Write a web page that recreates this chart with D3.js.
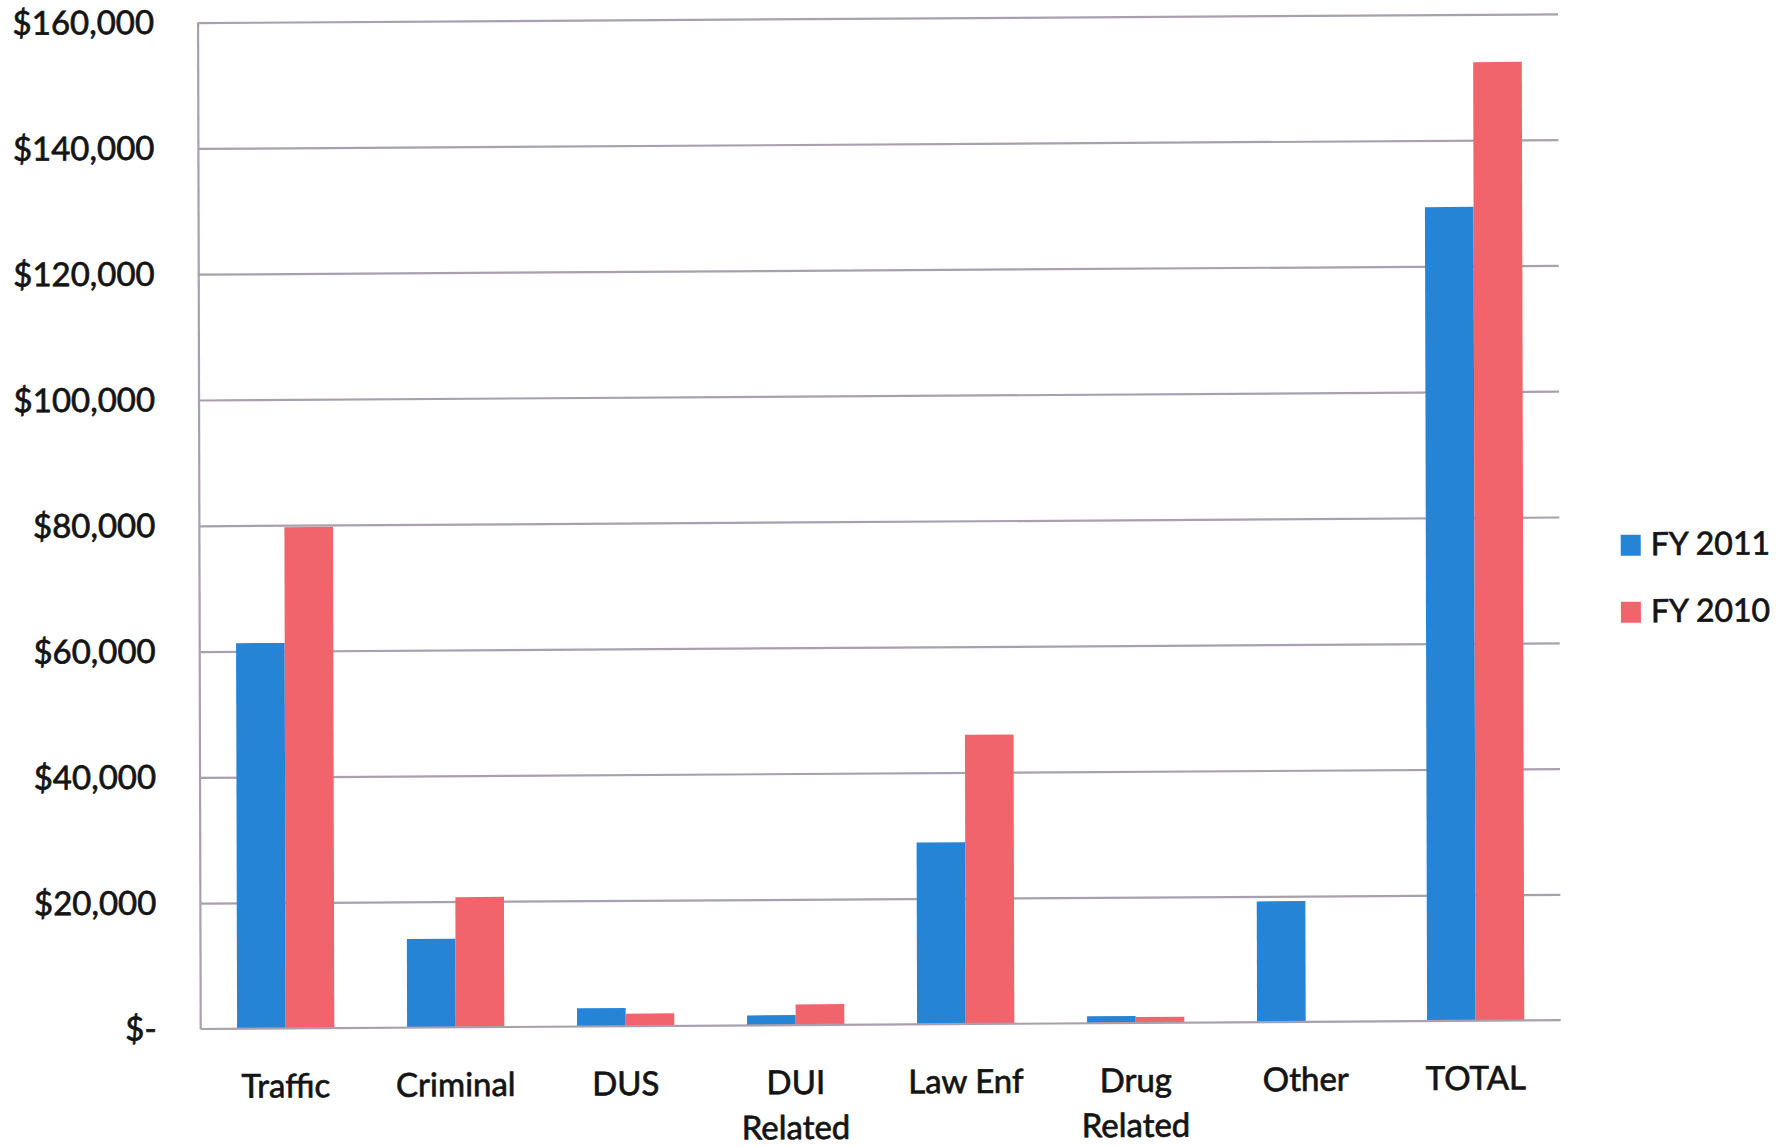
<!DOCTYPE html>
<html>
<head>
<meta charset="utf-8">
<script src="https://cdn.jsdelivr.net/npm/d3@7/dist/d3.min.js"></script>
<style>
  html, body { margin: 0; padding: 0; background: #ffffff; }
  svg { display: block; }
  text { font-family: Lato, "Open Sans", sans-serif; fill: #141414; stroke: #141414; stroke-width: 0.7px; }
</style>
</head>
<body>
<svg id="chart" width="1790" height="1147"></svg>
<script>
// Revenue by case type, FY 2011 vs FY 2010
const categories = ["Traffic", "Criminal", "DUS", "DUI\nRelated", "Law Enf", "Drug\nRelated", "Other", "TOTAL"];
const seriesNames = ["FY 2011", "FY 2010"];
const fy2011 = [61300, 14100, 2900, 1600, 28900, 1100, 19200, 129400];
const fy2010 = [79700, 20700, 2000, 3300, 46000, 950, 0, 152400];
const yTicks = [0, 20000, 40000, 60000, 80000, 100000, 120000, 140000, 160000];
const seriesColors = ["#2684d6", "#f2646b"];

const svg = d3.select("#chart");
const W = 1790, H = 1147;
svg.append("rect").attr("width", W).attr("height", H).attr("fill", "#ffffff");

// plot frame
const left = 200.7, plotW = 1360, base = 1029, plotH = 1006.4;
const gridColor = "#a99fae";

// the page is very slightly tilted; pivot at the bottom-left corner of the plot
const root = svg.append("g")
  .attr("transform", `translate(${left},${base}) rotate(-0.15) skewY(-0.22) translate(${-left},${-base})`);

const x0 = d3.scaleBand().domain(categories).range([left, left + plotW])
  .paddingInner(0.428).paddingOuter(0.214);
const x1 = d3.scaleBand().domain(seriesNames).range([0, x0.bandwidth()]);
const y = d3.scaleLinear().domain([0, 160000]).range([base, base - plotH]);

// horizontal gridlines
root.append("g")
  .attr("transform", `translate(${left},0)`)
  .call(d3.axisLeft(y).tickValues(yTicks.filter(d => d > 0)).tickSize(-plotW).tickFormat(""))
  .call(g => g.select(".domain").remove())
  .call(g => g.selectAll("line").attr("stroke", gridColor).attr("stroke-width", 2.2));

// y-axis labels
root.append("g")
  .attr("transform", `translate(${left},0)`)
  .call(d3.axisLeft(y).tickValues(yTicks).tickSize(0).tickPadding(44)
    .tickFormat(d => d === 0 ? "$-" : "$" + d3.format(",")(d)))
  .call(g => g.select(".domain").remove())
  .call(g => g.selectAll("text")
    .attr("font-family", "Lato, 'Open Sans', sans-serif")
    .attr("font-size", 33).attr("fill", "#141414"));

// bars
const rows = categories.map((c, i) => ({ cat: c, vals: [fy2011[i], fy2010[i]] }));
const groups = root.append("g").selectAll("g").data(rows).join("g")
  .attr("transform", d => `translate(${x0(d.cat)},0)`);
groups.selectAll("rect")
  .data(d => d.vals.map((v, j) => ({ name: seriesNames[j], v, j })))
  .join("rect")
  .attr("x", d => x1(d.name))
  .attr("width", x1.bandwidth())
  .attr("y", d => y(d.v))
  .attr("height", d => y(0) - y(d.v))
  .attr("fill", d => seriesColors[d.j]);

// axis lines
root.append("line")
  .attr("x1", left).attr("x2", left).attr("y1", y(160000)).attr("y2", y(0))
  .attr("stroke", gridColor).attr("stroke-width", 2.2);
root.append("line")
  .attr("x1", left).attr("x2", left + plotW).attr("y1", y(0)).attr("y2", y(0))
  .attr("stroke", gridColor).attr("stroke-width", 2.2);

// category labels
const catLabels = root.append("g").selectAll("text").data(categories).join("text")
  .attr("text-anchor", "middle")
  .attr("font-size", 33)
  .attr("transform", d => `translate(${x0(d) + x0.bandwidth() / 2},${base + 69})`);
catLabels.selectAll("tspan")
  .data(d => d.split("\n"))
  .join("tspan")
  .attr("x", 0)
  .attr("y", (d, i) => i * 45)
  .text(d => d);

// legend
const legend = root.append("g").attr("transform", "translate(1622,544)");
const items = legend.selectAll("g").data(seriesNames).join("g")
  .attr("transform", (d, i) => `translate(0,${i * 67})`);
items.append("rect").attr("width", 20).attr("height", 21)
  .attr("fill", (d, i) => seriesColors[i]);
items.append("text").attr("x", 30).attr("y", 20.5)
  .attr("font-size", 32).text(d => d);
</script>
</body>
</html>
